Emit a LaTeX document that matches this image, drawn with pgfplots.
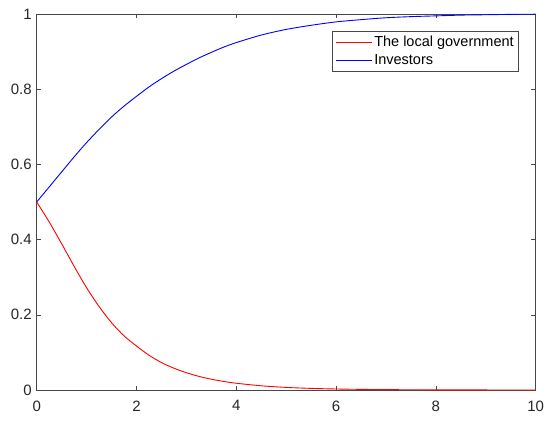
\documentclass[border=0pt]{standalone}
\usepackage{fontspec}
\setmainfont{Liberation Sans}
\usepackage{pgfplots}
\pgfplotsset{compat=1.18}
\definecolor{axgray}{RGB}{38,38,38}
\begin{document}
\begin{tikzpicture}
\begin{axis}[
  name=ax,
  scale only axis,
  width=499pt, height=376pt,
  xmin=0, xmax=10, ymin=0, ymax=1,
  xtick={0,2,4,6,8,10},
  ytick={0,0.2,0.4,0.6,0.8,1},
  tick align=inside,
  major tick length=4.5pt,
  axis line style={axgray!85, line width=0.7pt},
  tick style={axgray!85, line width=0.6pt},
  every tick label/.append style={font=\fontsize{15}{18}\selectfont, text=axgray},
  /pgf/number format/assume math mode=true,
  xticklabel style={yshift=-7pt},
  yticklabel style={xshift=-1.5pt},
  legend style={
    at={(0.9665,0.9548)}, anchor=north east,
    draw=axgray!85, line width=0.6pt,
    font=\fontsize{14.5}{17}\selectfont,
    inner xsep=3pt, inner ysep=3pt,
    row sep=2.5pt,
  },
  legend cell align=left,
  legend image code/.code={\draw[mark repeat=2,mark phase=2,#1] plot coordinates {(0pt,0pt) (18pt,0pt) (36pt,0pt)};},
]
\addplot[red, line width=0.9pt, smooth] coordinates {
(0,0.5) (0.25,0.447) (0.5,0.389) (0.75,0.329) (1,0.272) (1.25,0.222) (1.5,0.179) (1.75,0.144)
(2,0.117) (2.25,0.0925) (2.5,0.073) (2.75,0.058) (3,0.046) (3.25,0.0363) (3.5,0.0287) (3.75,0.0227)
(4,0.018) (4.5,0.0112) (5,0.0069) (5.5,0.0043) (6,0.0027) (6.5,0.0017) (7,0.001) (8,0.0004)
(9,0.00015) (10,0.00006)
};
\addlegendentry{The local government}
\addplot[blue, line width=0.9pt, smooth] coordinates {
(0,0.5) (0.25,0.54) (0.5,0.58) (0.75,0.62) (1,0.658) (1.25,0.693) (1.5,0.726) (1.75,0.755)
(2,0.781) (2.25,0.806) (2.5,0.828) (2.75,0.848) (3,0.866) (3.25,0.883) (3.5,0.898) (3.75,0.912)
(4,0.924) (4.5,0.944) (5,0.959) (5.5,0.970) (6,0.979) (6.5,0.985) (7,0.990) (7.5,0.993)
(8,0.995) (8.5,0.997) (9,0.998) (9.5,0.999) (10,0.9995)
};
\addlegendentry{Investors}
\end{axis}
\pgfresetboundingbox
\path[use as bounding box] ([xshift=-36.7pt,yshift=-33pt]ax.south west) rectangle ([xshift=14.3pt,yshift=14pt]ax.north east);
\end{tikzpicture}
\end{document}
